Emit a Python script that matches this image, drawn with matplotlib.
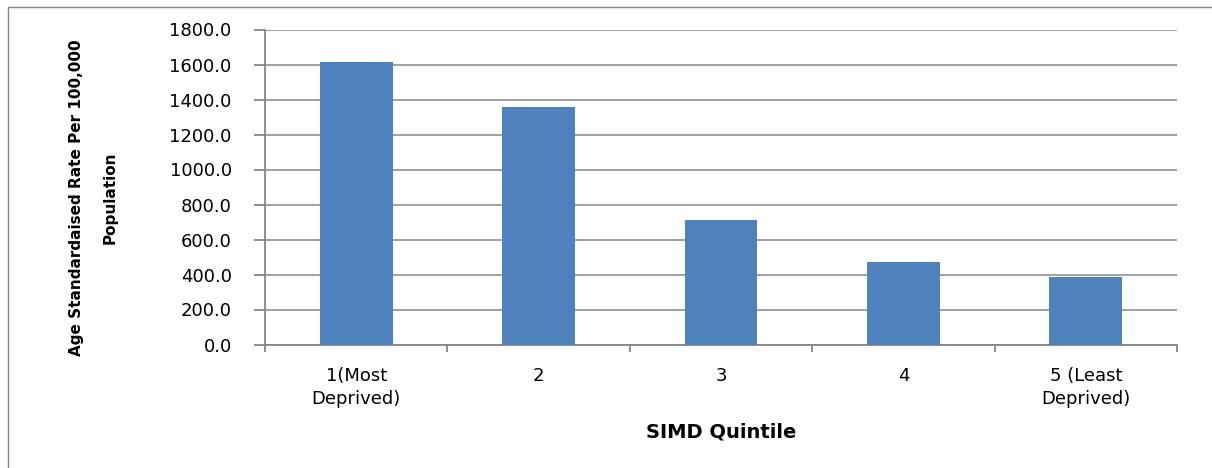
import matplotlib
matplotlib.use("Agg")
import matplotlib.pyplot as plt
from matplotlib.patches import Rectangle

# Age standardised rate per 100,000 by SIMD quintile
categories = ["1(Most\nDeprived)", "2", "3", "4", "5 (Least\nDeprived)"]
rates = [1614.0, 1355.0, 710.0, 470.0, 386.0]
y_ticks = [0, 200, 400, 600, 800, 1000, 1200, 1400, 1600, 1800]

BAR_BLUE = "#4F81BD"
AXIS_GREY = "#868686"

plt.rcParams["font.family"] = ["DejaVu Sans"]

fig = plt.figure(figsize=(12.12, 4.68), dpi=100)
ax = fig.add_axes([265 / 1212, 1 - 344.5 / 468, (1177 - 265) / 1212, (344.5 - 29.5) / 468])

x = list(range(len(categories)))
ax.bar(x, rates, width=0.4, color=BAR_BLUE, zorder=3)

ax.set_xlim(-0.5, len(categories) - 0.5)
ax.set_ylim(0, 1800)
ax.set_yticks(y_ticks)
ax.set_yticklabels([f"{v:.1f}" for v in y_ticks], fontsize=13)
ax.yaxis.grid(True, color=AXIS_GREY, linewidth=1.1, zorder=0)
ax.set_axisbelow(True)

# category boundaries carry the tick marks, centres carry the labels
ax.set_xticks([i - 0.5 for i in range(len(categories) + 1)])
ax.set_xticklabels([])
ax.set_xticks(x, minor=True)
ax.set_xticklabels(categories, minor=True, fontsize=13, linespacing=1.35)
ax.tick_params(axis="x", which="major", direction="out", length=5, width=1.3, color=AXIS_GREY)
ax.tick_params(axis="x", which="minor", length=0, pad=16)
ax.tick_params(axis="y", direction="out", length=8, width=1.3, color=AXIS_GREY, pad=16)

for side in ("top", "right"):
    ax.spines[side].set_visible(False)
for side in ("left", "bottom"):
    ax.spines[side].set_color(AXIS_GREY)
    ax.spines[side].set_linewidth(1.3)

ax.set_xlabel("SIMD Quintile", fontsize=14, fontweight="bold", labelpad=11)
fig.text(93.5 / 1212, 1 - 198 / 468, "Age Standardaised Rate Per 100,000\nPopulation",
         rotation=90, ha="center", va="center", fontsize=11, fontweight="bold",
         linespacing=2.6)

# chart frame
fig.patches.append(Rectangle((8 / 1212, -0.05), 1.1, 1 - 7 / 468 + 0.05,
                             transform=fig.transFigure, fill=False,
                             edgecolor=AXIS_GREY, linewidth=1.0))

fig.savefig("out.png", dpi=100)
